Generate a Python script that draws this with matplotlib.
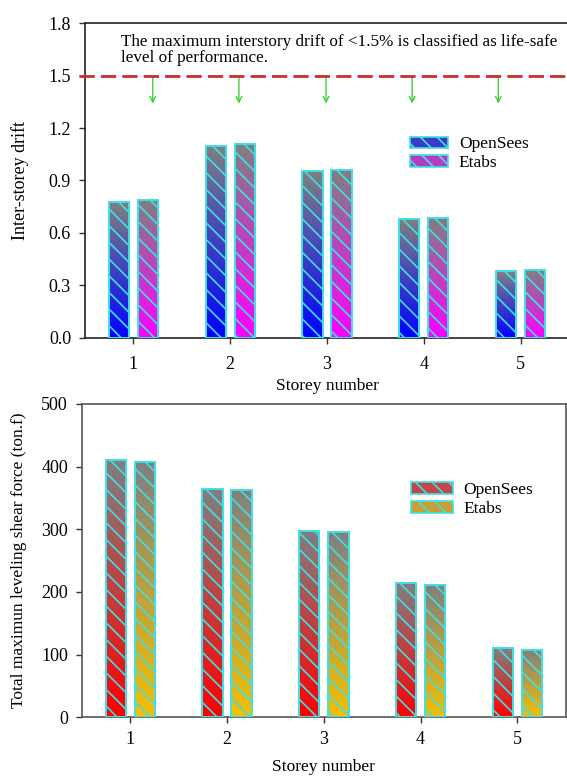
import numpy as np
import matplotlib
matplotlib.use('Agg')
import matplotlib.pyplot as plt
from matplotlib.colors import LinearSegmentedColormap
from matplotlib.patches import Patch

# ---------------- data ----------------
storeys = [1, 2, 3, 4, 5]
series_labels = ['OpenSees', 'Etabs']
drift_opensees = [0.775, 1.10, 0.955, 0.68, 0.382]
drift_etabs = [0.787, 1.11, 0.962, 0.686, 0.388]
shear_opensees = [410, 364, 298, 214, 110]
shear_etabs = [408, 362, 295, 211, 107]
drift_limit = 1.5
arrow_x = [1.20, 2.09, 2.99, 3.88, 4.77]
arrow_tip = 1.34
drift_ticks = [0.0, 0.3, 0.6, 0.9, 1.2, 1.5, 1.8]
shear_ticks = [0, 100, 200, 300, 400, 500]
note = ("The maximum interstory drift of <1.5% is classified as life-safe\n"
        "level of performance.")

# ---------------- style ----------------
plt.rcParams['font.family'] = ['Liberation Serif', 'DejaVu Serif']
plt.rcParams['hatch.linewidth'] = 1.2
EDGE = '#3ee0e6'
GRAY = '#808080'
HATCH = '\\\\'
top_cols = ['#0000ff', '#ff00ff']
bot_cols = ['#ff0000', '#f5c000']
legend_top = ['#3b3bc4', '#b43cc4']
legend_bot = ['#c24848', '#c8a032']

W, OFF = 0.21, 0.15

fig = plt.figure(figsize=(5.67, 7.76), dpi=100)
ax1 = fig.add_axes([0.1499, 0.5648, 0.8536, 0.4052])
ax2 = fig.add_axes([0.1446, 0.0756, 0.8531, 0.4038])


def gradient_bars(ax, xs, vals, base, label):
    bars = ax.bar(xs, vals, width=W, facecolor='none', edgecolor=EDGE,
                  linewidth=1.4, hatch=HATCH, zorder=3, label=label)
    cmap = LinearSegmentedColormap.from_list('g', [base, GRAY])
    grad = np.linspace(0, 1, 256).reshape(-1, 1)
    for r in bars:
        x0, w, h = r.get_x(), r.get_width(), r.get_height()
        im = ax.imshow(grad, cmap=cmap, origin='lower', aspect='auto',
                       extent=[x0, x0 + w, 0, h], zorder=2)
        im.set_clip_path(r)
    return bars


x = np.array(storeys, dtype=float)

# ---- top panel ----
gradient_bars(ax1, x - OFF, drift_opensees, top_cols[0], series_labels[0])
gradient_bars(ax1, x + OFF, drift_etabs, top_cols[1], series_labels[1])
ax1.axhline(drift_limit, xmin=-0.012, xmax=1, color='#c83030', lw=2.0,
            linestyle=(0, (5.5, 2.2)), clip_on=False, zorder=4)
for ax_x in arrow_x:
    ax1.annotate('', xy=(ax_x, arrow_tip), xytext=(ax_x, drift_limit),
                 arrowprops=dict(arrowstyle='->', color='#3cd23c', lw=1.0,
                                 mutation_scale=10, shrinkA=0, shrinkB=0))
ax1.text(0.87, 1.74, note, fontsize=12.3, va='top', ha='left',
         linespacing=1.0)
ax1.set_xlim(0.5, 5.5)
ax1.set_ylim(0, 1.8)
ax1.set_yticks(drift_ticks)
ax1.set_yticklabels([f'{t:.1f}' for t in drift_ticks])
ax1.set_xticks(storeys)
ax1.set_xlabel('Storey number', fontsize=12.5, labelpad=4)
ax1.set_ylabel('Inter-storey drift', fontsize=13, labelpad=14)
ax1.spines['right'].set_visible(False)

leg_handles1 = [Patch(facecolor=legend_top[i], edgecolor=EDGE, hatch='\\\\',
                      linewidth=1.2) for i in range(2)]
ax1.legend(leg_handles1, series_labels, loc='upper left',
           bbox_to_anchor=(0.672, 0.64), frameon=False, fontsize=12.5,
           handlelength=2.2, handleheight=0.65, handletextpad=0.6,
           labelspacing=0.15, borderpad=0, borderaxespad=0)

# ---- bottom panel ----
gradient_bars(ax2, x - OFF, shear_opensees, bot_cols[0], series_labels[0])
gradient_bars(ax2, x + OFF, shear_etabs, bot_cols[1], series_labels[1])
ax2.set_xlim(0.5, 5.5)
ax2.set_ylim(0, 500)
ax2.set_yticks(shear_ticks)
ax2.set_xticks(storeys)
ax2.set_xlabel('Storey number', fontsize=12.5, labelpad=8)
ax2.set_ylabel('Total maximun leveling shear force (ton.f)', fontsize=12.5,
               labelpad=10)
leg_handles2 = [Patch(facecolor=legend_bot[i], edgecolor=EDGE, hatch='\\\\',
                      linewidth=1.2) for i in range(2)]
ax2.legend(leg_handles2, series_labels, loc='upper left',
           bbox_to_anchor=(0.68, 0.75), frameon=False, fontsize=12.5,
           handlelength=2.4, handleheight=0.65, handletextpad=0.6,
           labelspacing=0.15, borderpad=0, borderaxespad=0)

for ax, sc in ((ax1, '#222222'), (ax2, '#555555')):
    for s in ax.spines.values():
        s.set_color(sc)
        s.set_linewidth(1.2)
    ax.tick_params(direction='out', length=4, width=1, color='#333333',
                   labelsize=13, pad=6)
ax1.tick_params(axis='x', pad=9)

fig.savefig('out.png', dpi=100)
